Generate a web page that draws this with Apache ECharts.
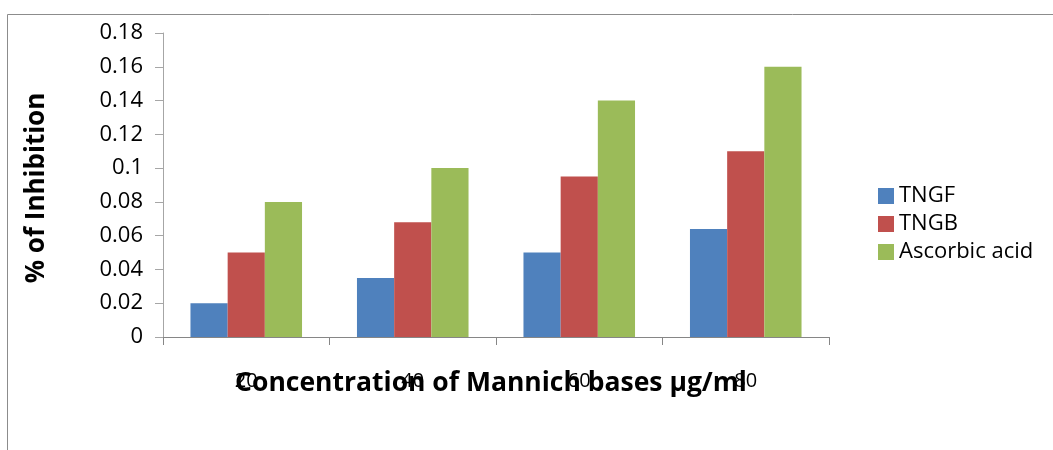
<!DOCTYPE html>
<html>
<head>
<meta charset="utf-8">
<script src="https://cdn.jsdelivr.net/npm/echarts@6/dist/echarts.min.js"></script>
<style>
html,body{margin:0;padding:0;background:#fff;}
#chart{width:1053px;height:450px;}
</style>
</head>
<body>
<div id="chart"></div>
<script>
const categories = ['20', '40', '60', '80'];
const tngf = [0.02, 0.035, 0.05, 0.064];
const tngb = [0.05, 0.068, 0.095, 0.11];
const ascorbic = [0.08, 0.10, 0.14, 0.16];
const seriesNames = ['TNGF', 'TNGB', 'Ascorbic acid'];
const colors = ['#4F81BD', '#C0504D', '#9BBB59'];
const xTitle = 'Concentration of Mannich bases μg/ml';
const yTitle = '% of Inhibition';

const FONT = '"Open Sans", "Noto Sans", sans-serif';
const chart = echarts.init(document.getElementById('chart'));
chart.setOption({
  animation: false,
  backgroundColor: '#fff',
  grid: {left: 163, right: 224, top: 33, bottom: 113, containLabel: false},
  legend: {
    orient: 'vertical',
    left: 873, top: 180,
    itemWidth: 16, itemHeight: 16, itemGap: 6,
    icon: 'rect',
    textStyle: {fontFamily: FONT, fontSize: 22, lineHeight: 22, color: '#000', padding: [0,0,0,0]},
    data: seriesNames
  },
  xAxis: {
    type: 'category',
    data: categories,
    axisLine: {lineStyle: {color: '#868686', width: 1}},
    axisTick: {show: true, length: 8, alignWithLabel: false, lineStyle: {color: '#868686'}},
    axisLabel: {fontFamily: FONT, fontSize: 20, color: '#000', margin: 34}
  },
  yAxis: {
    type: 'value',
    min: 0, max: 0.18, interval: 0.02,
    splitLine: {show: false},
    axisLine: {show: true, lineStyle: {color: '#a6a6a6', width: 1}},
    axisTick: {show: true, length: 8, lineStyle: {color: '#a6a6a6'}},
    axisLabel: {fontFamily: FONT, fontSize: 22, color: '#000', margin: 20,
      formatter: v => String(Math.round(v * 100) / 100)}
  },
  series: [
    {name: seriesNames[0], type: 'bar', data: tngf, itemStyle: {color: colors[0]}, barGap: '0%', barCategoryGap: '33%'},
    {name: seriesNames[1], type: 'bar', data: tngb, itemStyle: {color: colors[1]}, barGap: '0%', barCategoryGap: '33%'},
    {name: seriesNames[2], type: 'bar', data: ascorbic, itemStyle: {color: colors[2]}, barGap: '0%', barCategoryGap: '33%'}
  ],
  graphic: [
    {type: 'polyline', silent: true, shape: {points: [[7.5, 460], [7.5, 14.5], [1060, 14.5]]},
      style: {stroke: '#8c8c8c', lineWidth: 1, fill: null}},
    {type: 'text', x: 491, y: 383, style: {text: xTitle, fontFamily: FONT, fontWeight: 'bold', fontSize: 26.5,
      fill: '#000', textAlign: 'center', textVerticalAlign: 'middle'}},
    {type: 'text', x: 37, y: 188, rotation: Math.PI / 2, style: {text: yTitle, fontFamily: FONT, fontWeight: 'bold', fontSize: 26,
      fill: '#000', textAlign: 'center', textVerticalAlign: 'middle'}}
  ]
});
</script>
</body>
</html>
